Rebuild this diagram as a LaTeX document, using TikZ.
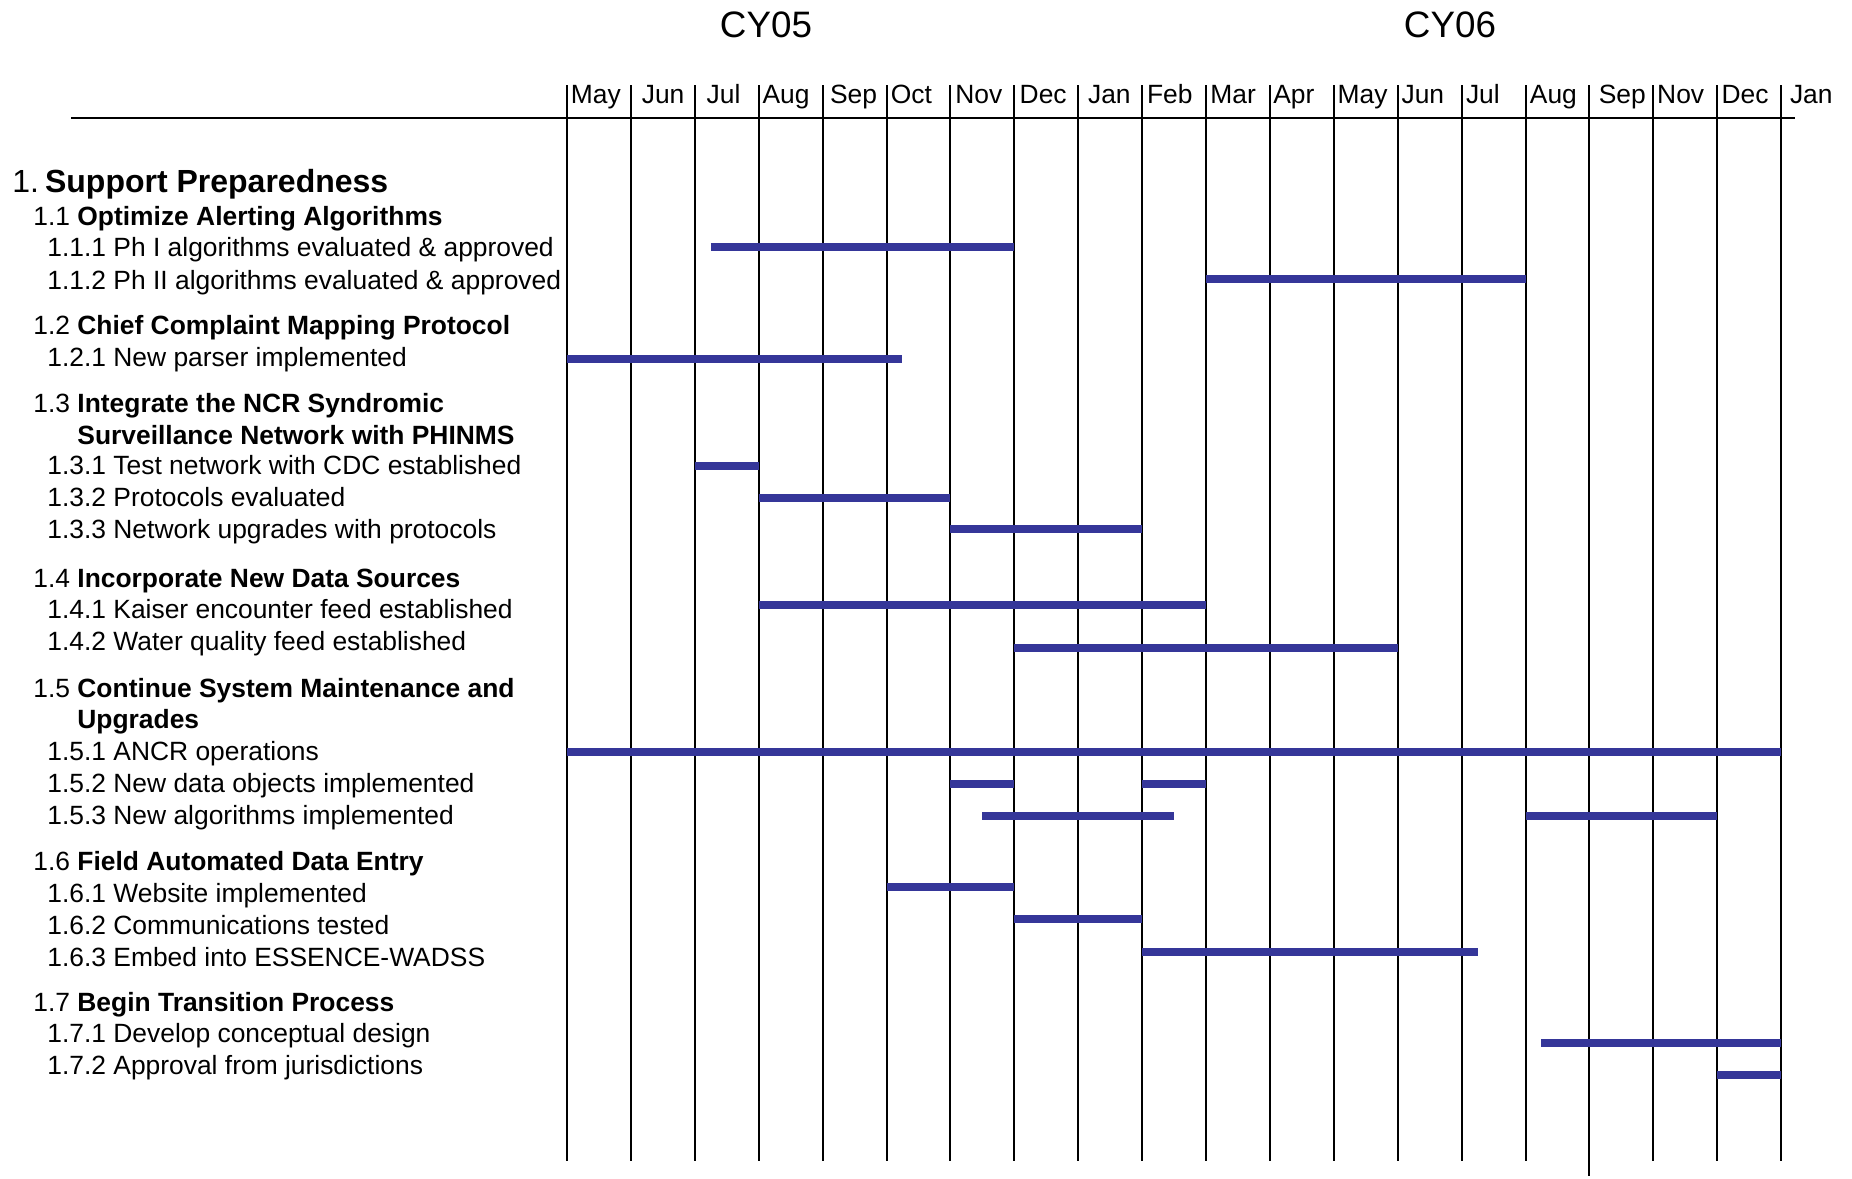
\documentclass[tikz,border=0pt]{standalone}
\usepackage{fontspec}
\setmainfont{Liberation Sans}
\usepackage{xcolor}
\definecolor{ganttblue}{RGB}{53,54,153}
\newcommand{\monthx}[1]{567+63.9*(#1)}

\begin{document}
\begin{tikzpicture}[x=0.5pt, y=-0.5pt, bar/.style={line width=4pt, ganttblue}, grid/.style={line width=1pt}]
\tikzstyle{task} = [anchor=base west, inner sep=0pt, font=\fontsize{13.2}{16}\selectfont]
\tikzstyle{year} = [anchor=base, inner sep=0pt, font=\fontsize{18.4}{22}\selectfont]
\useasboundingbox (0,0) rectangle (1852,1178);
% years
\node[year] (cy05) at (766,38) {CY05};
\node[year] (cy06) at (1450,38) {CY06};
% month grid
\draw[grid] (71,118) -- (1795,118);
\foreach \i/\mname/\mgap in {0/May/3.5, 1/Jun/10.5, 2/Jul/11.5, 3/Aug/3.5, 4/Sep/7, 5/Oct/4, 6/Nov/4.5, 7/Dec/5, 8/Jan/9.5, 9/Feb/4.5, 10/Mar/4, 11/Apr/3, 12/May/3.5, 13/Jun/3.5, 14/Jul/4, 15/Aug/4, 16/Sep/9, 17/Nov/3.5, 18/Dec/4, 19/Jan/8.5} {
  \draw[grid] ({\monthx{\i}},85) -- ({\monthx{\i}},1161);
  \node[task] (mon\i) at ({\monthx{\i}+\mgap},103.5) {\mname};
}
\draw[grid] ({\monthx{16}},1161) -- ({\monthx{16}},1176);
% task list
\node[task, font=\fontsize{16}{19}\selectfont] (prep) at (12,192) {1.\hspace{3pt}\textbf{Support Preparedness}};
\node[task] (alert) at (33,225) {1.1 \textbf{Optimize Alerting Algorithms}};
\node[task] (phone) at (47,256.5) {1.1.1 Ph I algorithms evaluated \& approved};
\node[task] (phtwo) at (47,289) {1.1.2 Ph II algorithms evaluated \& approved};
\node[task] (chief) at (33,334.5) {1.2 \textbf{Chief Complaint Mapping Protocol}};
\node[task] (parser) at (47,366) {1.2.1 New parser implemented};
\node[task] (ncr) at (33,412) {1.3 \textbf{Integrate the NCR Syndromic}};
\node[task] (ncrb) at (77,444) {\textbf{Surveillance Network with PHINMS}};
\node[task] (cdc) at (47,474.5) {1.3.1 Test network with CDC established};
\node[task] (proto) at (47,506.5) {1.3.2 Protocols evaluated};
\node[task] (upgr) at (47,538.5) {1.3.3 Network upgrades with protocols};
\node[task] (sources) at (33,587) {1.4 \textbf{Incorporate New Data Sources}};
\node[task] (kaiser) at (47,618.5) {1.4.1 Kaiser encounter feed established};
\node[task] (water) at (47,650.5) {1.4.2 Water quality feed established};
\node[task] (maint) at (33,697) {1.5 \textbf{Continue System Maintenance and}};
\node[task] (maintb) at (77,728) {\textbf{Upgrades}};
\node[task] (ancr) at (47,760) {1.5.1 ANCR operations};
\node[task] (objects) at (47,792) {1.5.2 New data objects implemented};
\node[task] (algos) at (47,824.5) {1.5.3 New algorithms implemented};
\node[task] (field) at (33,870) {1.6 \textbf{Field Automated Data Entry}};
\node[task] (web) at (47,902) {1.6.1 Website implemented};
\node[task] (comms) at (47,934) {1.6.2 Communications tested};
\node[task] (essence) at (47,966) {1.6.3 Embed into ESSENCE-WADSS};
\node[task] (trans) at (33,1011) {1.7 \textbf{Begin Transition Process}};
\node[task] (design) at (47,1042) {1.7.1 Develop conceptual design};
\node[task] (juris) at (47,1074) {1.7.2 Approval from jurisdictions};
% bars
\draw[bar] ({\monthx{2.25}},247) -- ({\monthx{7}},247);
\draw[bar] ({\monthx{10}},279) -- ({\monthx{15}},279);
\draw[bar] ({\monthx{0}},358.5) -- ({\monthx{5.25}},358.5);
\draw[bar] ({\monthx{2}},465.5) -- ({\monthx{3}},465.5);
\draw[bar] ({\monthx{3}},497.5) -- ({\monthx{6}},497.5);
\draw[bar] ({\monthx{6}},529) -- ({\monthx{9}},529);
\draw[bar] ({\monthx{3}},605) -- ({\monthx{10}},605);
\draw[bar] ({\monthx{7}},647.5) -- ({\monthx{13}},647.5);
\draw[bar] ({\monthx{0}},751.5) -- ({\monthx{19}},751.5);
\draw[bar] ({\monthx{6}},783.5) -- ({\monthx{7}},783.5);
\draw[bar] ({\monthx{9}},783.5) -- ({\monthx{10}},783.5);
\draw[bar] ({\monthx{6.5}},815.5) -- ({\monthx{9.5}},815.5);
\draw[bar] ({\monthx{15}},815.5) -- ({\monthx{18}},815.5);
\draw[bar] ({\monthx{5}},887) -- ({\monthx{7}},887);
\draw[bar] ({\monthx{7}},919) -- ({\monthx{9}},919);
\draw[bar] ({\monthx{9}},952) -- ({\monthx{14.25}},952);
\draw[bar] ({\monthx{15.25}},1043) -- ({\monthx{19}},1043);
\draw[bar] ({\monthx{18}},1075) -- ({\monthx{19}},1075);
\end{tikzpicture}
\end{document}
